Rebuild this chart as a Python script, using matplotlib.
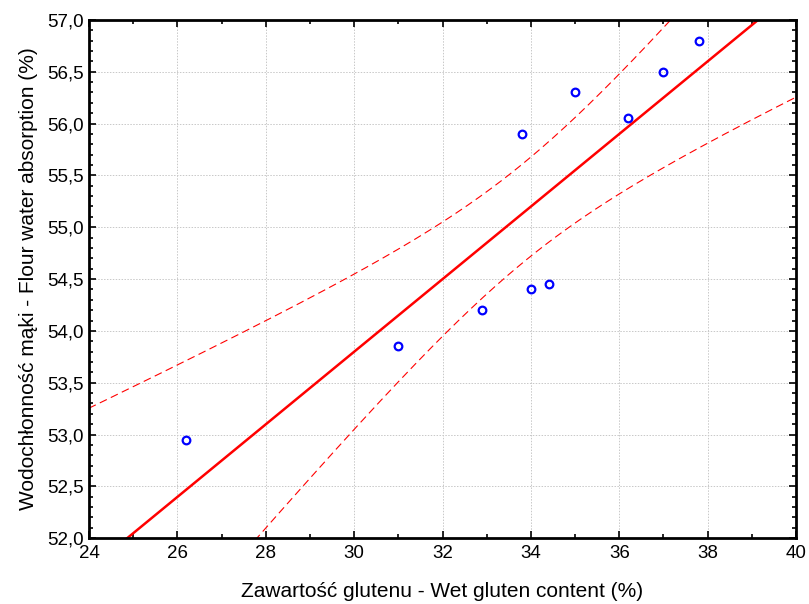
import numpy as np
import matplotlib.pyplot as plt
from matplotlib.ticker import MultipleLocator, FuncFormatter

# data
gluten = [26.2, 31.0, 32.9, 33.8, 34.0, 34.4, 35.0, 36.2, 37.0, 37.8]
absorption = [52.95, 53.85, 54.2, 55.9, 54.4, 54.45, 56.3, 56.05, 56.5, 56.8]
t_crit = 2.306  # t(0.975, df=8)

x = np.array(gluten)
y = np.array(absorption)
n = len(x)

# linear fit and 95% confidence band of the mean
b, a = np.polyfit(x, y, 1)
xs = np.linspace(23, 41, 400)
ys = a + b * xs
resid = y - (a + b * x)
s = np.sqrt(np.sum(resid ** 2) / (n - 2))
se = s * np.sqrt(1.0 / n + (xs - x.mean()) ** 2 / np.sum((x - x.mean()) ** 2))

plt.rcParams['font.family'] = ['Liberation Sans', 'DejaVu Sans']

fig = plt.figure(figsize=(8.09, 6.04), dpi=100)
ax = fig.add_axes([0.110, 0.109, 0.874, 0.858])

ax.plot(xs, ys, color='red', lw=1.8)
ax.plot(xs, ys + t_crit * se, color='red', lw=0.8, ls=(0, (7, 4)))
ax.plot(xs, ys - t_crit * se, color='red', lw=0.8, ls=(0, (7, 4)))
ax.plot(x, y, 'o', mfc='none', mec='blue', mew=1.6, ms=5.5)

ax.set_xlim(24, 40)
ax.set_ylim(52, 57)
ax.xaxis.set_major_locator(MultipleLocator(2))
ax.xaxis.set_minor_locator(MultipleLocator(1))
ax.yaxis.set_major_locator(MultipleLocator(0.5))
ax.yaxis.set_minor_locator(MultipleLocator(0.1))
ax.yaxis.set_major_formatter(FuncFormatter(lambda v, p: ('%.1f' % v).replace('.', ',')))

ax.grid(True, which='major', color='#c8c8c8', ls=(0, (1.5, 1.5)), lw=0.7)
for sp in ax.spines.values():
    sp.set_linewidth(2)
ax.tick_params(which='both', direction='in', top=True, right=True, labelsize=13.5, width=1.2)
ax.tick_params(which='major', length=5)
ax.tick_params(which='minor', length=3)
ax.tick_params(axis='x', which='major', pad=5)
ax.tick_params(axis='y', which='major', pad=4)

ax.set_xlabel('Zawartość glutenu - Wet gluten content (%)', fontsize=15, labelpad=14)
ax.set_ylabel('Wodochłonność mąki - Flour water absorption (%)', fontsize=15, labelpad=6)

fig.savefig('out.png', dpi=100)
